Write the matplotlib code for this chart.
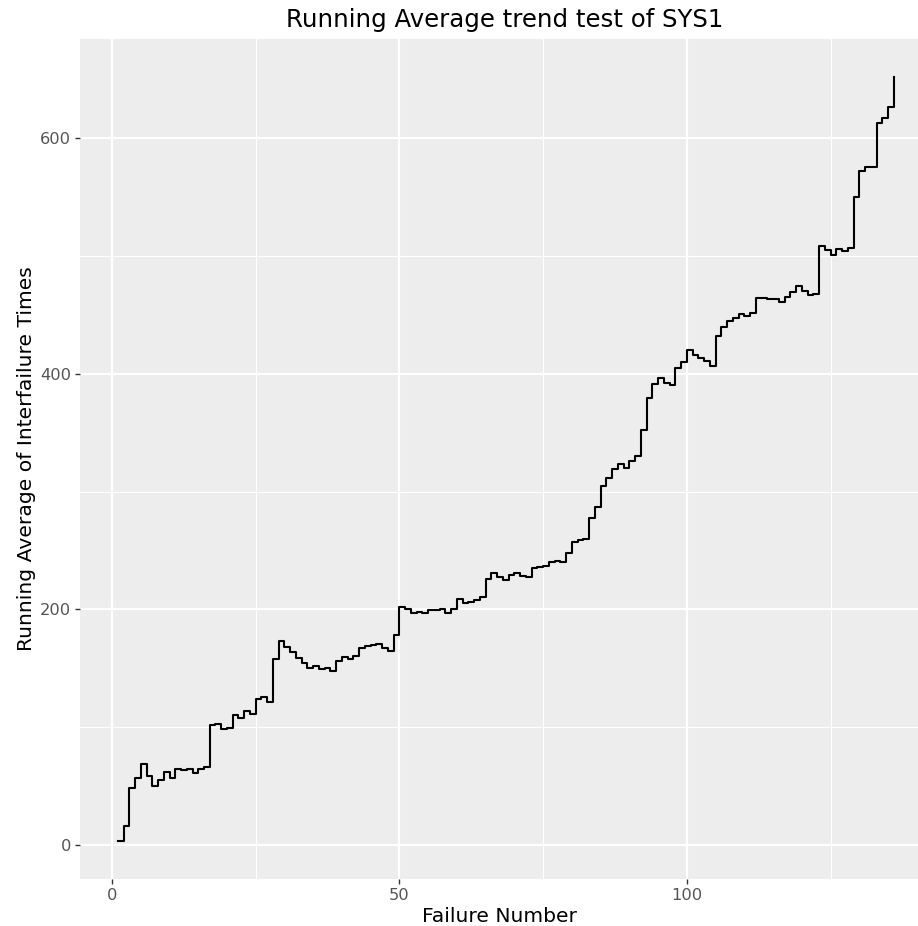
import numpy as np
import matplotlib
matplotlib.use("Agg")
import matplotlib.pyplot as plt

# SYS1 interfailure times (Musa), 136 failures
interfailure_times = [
    3, 30, 113, 81, 115, 9, 2, 91, 112, 15, 138, 50, 77, 24, 108, 88, 670, 120, 26, 114,
    325, 55, 242, 68, 422, 180, 10, 1146, 600, 15, 36, 4, 0, 8, 227, 65, 176, 58, 457, 300,
    97, 263, 452, 255, 197, 193, 6, 79, 816, 1351, 148, 21, 233, 134, 357, 193, 236, 31, 369, 748,
    0, 232, 330, 365, 1222, 543, 10, 16, 529, 379, 44, 129, 810, 290, 300, 529, 281, 160, 828, 1011,
    445, 296, 1755, 1064, 1783, 860, 983, 707, 33, 868, 724, 2323, 2930, 1461, 843, 12, 261, 1800, 865, 1435,
    30, 143, 108, 0, 3110, 1247, 943, 700, 875, 245, 729, 1897, 447, 386, 446, 122, 990, 948, 1082, 22,
    75, 482, 5509, 100, 10, 1071, 371, 790, 6150, 3321, 1045, 648, 5485, 1160, 1864, 4116,
]
x_ticks = [0, 50, 100]
y_ticks = [0, 200, 400, 600]

times = np.array(interfailure_times, dtype=float)
failure_number = np.arange(1, len(times) + 1)
running_avg = np.cumsum(times) / failure_number

W, H = 918, 926
fig = plt.figure(figsize=(W / 100, H / 100), dpi=100)
ax = fig.add_axes([80 / W, (926 - 879) / H, (918 - 80) / W, (879 - 39) / H])
ax.set_facecolor("#EDEDED")
for s in ax.spines.values():
    s.set_visible(False)

ax.set_xlim(-5.57, 140.2)
ax.set_ylim(-28.9, 684.5)
ax.set_xticks(x_ticks)
ax.set_yticks(y_ticks)
ax.set_xticks([25, 75, 125], minor=True)
ax.set_yticks([100, 300, 500], minor=True)
ax.grid(which="major", color="white", linewidth=1.6)
ax.grid(which="minor", color="white", linewidth=0.8)
ax.set_axisbelow(True)
ax.tick_params(which="major", length=3.6, width=1.0, color="#333333",
               labelsize=11.7, labelcolor="#555555", pad=3)
ax.tick_params(which="minor", length=0)

ax.plot(failure_number, running_avg, drawstyle="steps-post", color="black", linewidth=1.5)

ax.set_xlabel("Failure Number", fontsize=14.6, labelpad=3)
ax.set_ylabel("Running Average of Interfailure Times", fontsize=14.6, labelpad=3)
fig.text(505 / W, 1 - 20 / H, "Running Average trend test of SYS1",
         ha="center", va="center", fontsize=17.6)

fig.savefig("out.png", dpi=100)
